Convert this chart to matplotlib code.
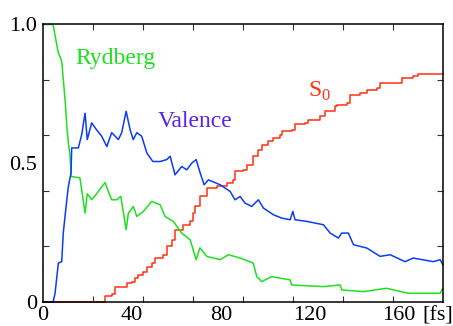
import matplotlib
matplotlib.use("Agg")
import matplotlib.pyplot as plt
from matplotlib import font_manager as fm
import numpy as np

serif_name = 'Liberation Serif'
for f in fm.fontManager.ttflist:
    if 'Liberation Serif' in f.name or 'Times' in f.name:
        serif_name = f.name
        break

plt.rcParams['font.family'] = 'serif'
plt.rcParams['font.serif'] = [serif_name, 'Liberation Serif', 'DejaVu Serif']
plt.rcParams['mathtext.fontset'] = 'custom'
plt.rcParams['mathtext.rm'] = serif_name

# populations (time in fs)
t_ryd = [0, 4.5, 6.8, 8.4, 9.9, 10.7, 11.4, 12.2, 12.6, 16.6, 18.9, 19.9, 21.9, 24.1,
         27.9, 29.3, 30.9, 33.2, 35.0, 37.4, 38.4, 40.6, 42.2, 45.1, 48.9, 52.7, 54.9,
         58.6, 62.4, 66.2, 68.9, 70.6, 73.7, 79.7, 83.4, 88.7, 94.6, 96.2, 98.4, 102.9,
         111.2, 111.9, 126.2, 133.7, 134.4, 144.1, 154.6, 164.4, 178.7, 179.9]
p_ryd = [1.0, 1.0, 0.90, 0.868, 0.73, 0.633, 0.573, 0.525, 0.452, 0.447, 0.32, 0.39,
         0.368, 0.39, 0.43, 0.40, 0.368, 0.368, 0.38, 0.26, 0.32, 0.344, 0.308, 0.326,
         0.362, 0.35, 0.308, 0.29, 0.248, 0.224, 0.152, 0.195, 0.164, 0.152, 0.17, 0.158,
         0.14, 0.091, 0.073, 0.091, 0.079, 0.061, 0.055, 0.061, 0.043, 0.037, 0.049,
         0.031, 0.031, 0.049]

t_val = [0, 4.5, 5.4, 6.9, 8.4, 9.1, 10.7, 11.4, 12.6, 12.9, 15.9, 17.4, 18.9, 19.9,
         21.9, 24.1, 26.4, 28.7, 30.9, 33.9, 35.4, 37.4, 39.2, 40.6, 42.2, 44.4, 46.7,
         49.4, 52.7, 55.7, 57.2, 59.4, 62.4, 64.7, 66.9, 68.9, 70.7, 72.5, 74.4, 79.7,
         84.2, 86.4, 88.7, 90.9, 93.9, 96.9, 99.2, 103.7, 107.4, 111.2, 112.4, 113.4,
         118.7, 126.2, 129.2, 132.9, 134.4, 137.4, 139.7, 145.7, 151.7, 156.2, 162.9,
         166.6, 175.6, 178.7, 179.9]
p_val = [0, 0, 0.03, 0.14, 0.145, 0.248, 0.368, 0.416, 0.465, 0.555, 0.555, 0.603, 0.68,
         0.585, 0.645, 0.62, 0.597, 0.56, 0.61, 0.585, 0.61, 0.687, 0.62, 0.585, 0.61,
         0.597, 0.537, 0.506, 0.506, 0.513, 0.525, 0.458, 0.488, 0.476, 0.5, 0.513,
         0.465, 0.422, 0.44, 0.422, 0.398, 0.368, 0.38, 0.356, 0.344, 0.368, 0.338,
         0.314, 0.302, 0.296, 0.326, 0.296, 0.29, 0.278, 0.248, 0.23, 0.248, 0.248,
         0.206, 0.194, 0.164, 0.17, 0.145, 0.158, 0.145, 0.152, 0.134]

t_s0 = [0, 27.1, 27.9, 30.9, 32.4, 37.7, 39.9, 41.4, 42.9, 45.1, 46.7, 48.9, 50.4, 54.1,
        55.7, 57.9, 59.4, 63.1, 66.2, 67.4, 68.4, 70.7, 73.7, 78.2, 82.7, 85.7, 86.4,
        90.1, 91.7, 94.6, 96.9, 98.4, 101.4, 103.7, 106.6, 107.4, 111.9, 113.4, 117.9,
        119.4, 124.7, 127.0, 131.4, 132.2, 136.7, 138.2, 142.7, 145.7, 150.2, 151.7,
        157.6, 161.4, 166.6, 168.9, 179.9]
p_s0 = [0, 0, 0.02, 0.03, 0.055, 0.067, 0.073, 0.085, 0.097, 0.109, 0.127, 0.14, 0.158,
        0.17, 0.2, 0.224, 0.26, 0.278, 0.29, 0.32, 0.344, 0.38, 0.41, 0.416, 0.43,
        0.44, 0.47, 0.476, 0.495, 0.525, 0.549, 0.567, 0.579, 0.59, 0.603, 0.615,
        0.62, 0.64, 0.645, 0.657, 0.669, 0.687, 0.705, 0.711, 0.717, 0.747, 0.753,
        0.765, 0.771, 0.789, 0.789, 0.807, 0.813, 0.823, 0.823]

x_labels = [0, 40, 80, 120, 160]
y_labels = [0, 0.5, 1.0]
y_label_text = ['0', '0.5', '1.0']

green = '#1ee01e'
blue = '#0a3cf5'
red = '#ff3014'

fig = plt.figure(figsize=(4.53, 3.26), dpi=100)
ax = fig.add_axes([0.095, 0.074, 0.883, 0.851])

ax.plot(t_s0, p_s0, color=red, lw=1.1, clip_on=False, drawstyle='steps-post')
ax.plot(t_ryd, p_ryd, color=green, lw=1.1, clip_on=False)
ax.plot(t_val, p_val, color=blue, lw=1.1, clip_on=False)

ax.set_xlim(0, 180)
ax.set_ylim(0, 1)

ax.set_xticks(x_labels)
ax.set_xticklabels([str(v) for v in x_labels])
ax.set_xticks(np.arange(22.5, 180, 22.5), minor=True)
ax.set_yticks(y_labels)
ax.set_yticklabels(y_label_text)
ax.set_yticks([0.2, 0.4, 0.6, 0.8], minor=True)

ax.tick_params(which='major', length=0, labelsize=16)
ax.tick_params(axis='x', which='major', pad=3)
ax.tick_params(axis='y', which='major', pad=4)
ax.tick_params(which='minor', direction='in', length=4, width=0.8,
               top=True, right=True, color='#333333')
for s in ax.spines.values():
    s.set_linewidth(1.1)

ax.text(170.5, -0.015, '[fs]', fontsize=16, ha='left', va='top',
        transform=ax.get_xaxis_transform())

ax.text(14.4, 0.856, 'Rydberg', color=green, fontsize=17, va='baseline')
ax.text(51.8, 0.632, 'Valence', color='#5a22e6', fontsize=17, va='baseline')
ax.text(119.3, 0.74, r'S$_{\mathrm{0}}$', color=red, fontsize=17, va='baseline')

fig.savefig('out.png', dpi=100)
